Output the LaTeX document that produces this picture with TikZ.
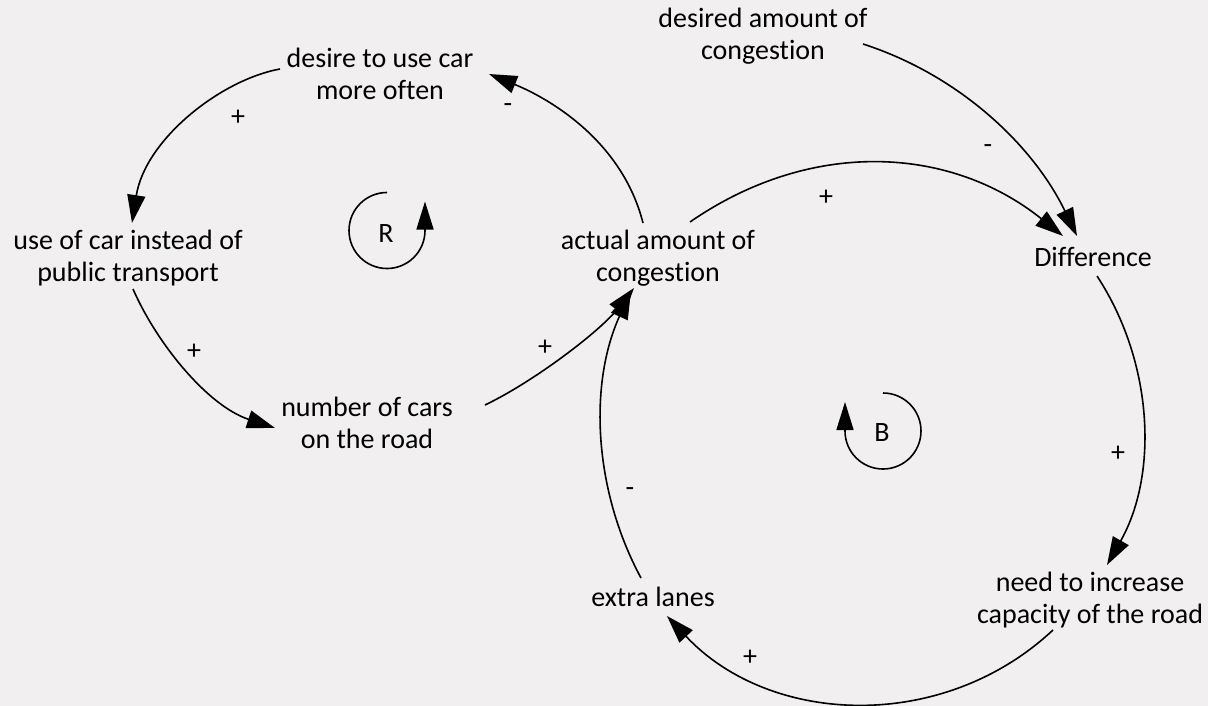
\documentclass[tikz,border=0pt]{standalone}
\usepackage{fontspec}
\setmainfont{Carlito}[Ligatures={NoCommon,NoContextual}]
\usetikzlibrary{arrows.meta,calc}
\definecolor{bg}{RGB}{241,239,240}
\begin{document}
\begin{tikzpicture}[x=1pt,y=-1pt,
  lbl/.style={font=\fontsize{28}{32}\selectfont, align=center, inner sep=0pt},
  sign/.style={font=\fontsize{28}{32}\selectfont, inner sep=0pt},
  link/.style={line width=1.6pt, -{Triangle[length=28pt,width=18pt]}},
  loopmark/.style={line width=1.6pt, -{Triangle[length=28pt,width=17pt]}}]
\fill[bg] (0,0) rectangle (1208,706);
\useasboundingbox (0,0) rectangle (1208,706);

% variables
\node[lbl] (desire)  at (380,74)   {desire to use car\\more often};
\node[lbl] (usecar)  at (128,258)  {use of car instead of\\public transport};
\node[lbl] (ncars)   at (367,423)  {number of cars\\on the road};
\node[lbl] (actual)  at (658,258)  {actual amount of\\congestion};
\node[lbl] (desired) at (763,36)   {desired amount of\\congestion};
\node[lbl] (diff)    at (1093,257) {Difference};
\node[lbl] (need)    at (1090,600) {need to increase\\capacity of the road};
\node[lbl] (lanes)   at (653,597)  {extra lanes};

% causal links
\draw[link] ($(desire.center)+(-100,-5)$) .. controls (220,80) and (145,140) .. ($(usecar.center)+(4,-35)$);
\draw[link] ($(usecar.center)+(5,31)$) .. controls (157,344) and (208,406) .. ($(ncars.center)+(-92,5)$);
\draw[link] ($(ncars.center)+(118,-18)$) .. controls (535,381) and (600,331) .. ($(actual.center)+(-24,30)$);
\draw[link] ($(actual.center)+(-15,-35)$) .. controls (622,140) and (548,98) .. ($(desire.center)+(109,0)$);
\draw[link] ($(actual.center)+(32,-36)$) .. controls (810,139) and (949,145) .. ($(diff.center)+(-30,-21)$);
\draw[link] ($(desired.center)+(100,8)$) .. controls (959,75) and (1033,145) .. ($(diff.center)+(-16,-21)$);
\draw[link] ($(diff.center)+(4,19)$) .. controls (1154,363) and (1158,475) .. ($(need.center)+(17,-35)$);
\draw[link] ($(need.center)+(-37,30)$) .. controls (943,733) and (770,726) .. ($(lanes.center)+(14,19)$);
\draw[link] ($(lanes.center)+(-12,-19)$) .. controls (593,489) and (589,383) .. ($(actual.center)+(-27,33)$);

% polarity signs
\node[sign] (s1) at (238,118) {+};
\node[sign] (s2) at (508,108) {-};
\node[sign] (s3) at (194,352) {+};
\node[sign] (s4) at (545,348) {+};
\node[sign] (s5) at (826,198) {+};
\node[sign] (s6) at (988,149) {-};
\node[sign] (s7) at (1118,454) {+};
\node[sign] (s8) at (750,658) {+};
\node[sign] (s9) at (630,492) {-};

% loop markers
\node[sign] (rloop) at (386,233.5) {R};
\draw[loopmark] ($(rloop.center)+(1,-41)$) arc[start angle=-90, end angle=-360, radius=38] -- ++(0,-29);
\node[sign] (bloop) at (882,433) {B};
\draw[loopmark] ($(bloop.center)+(1,-40)$) arc[start angle=-90, end angle=180, radius=38] -- ++(0,-29);
\end{tikzpicture}
\end{document}
